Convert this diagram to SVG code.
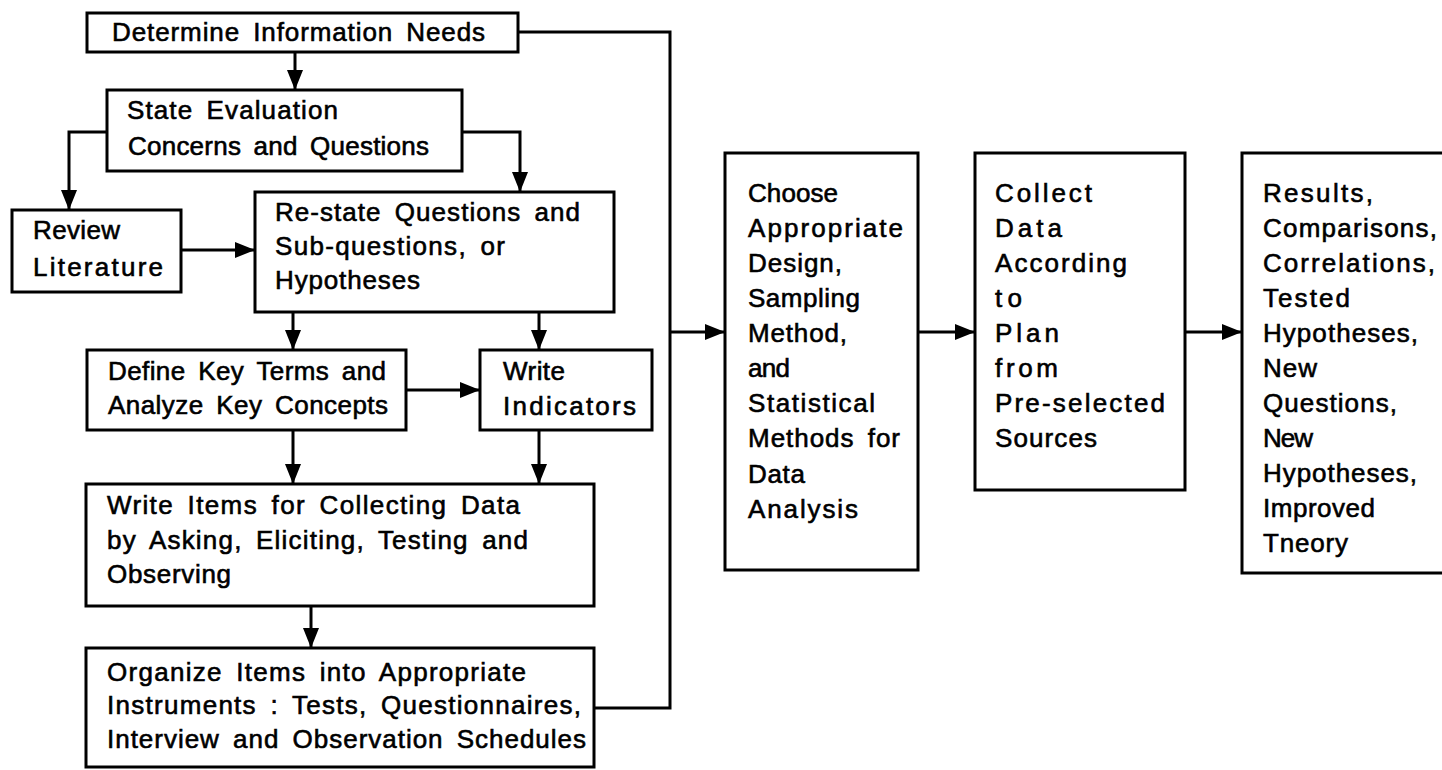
<svg xmlns="http://www.w3.org/2000/svg" width="1442" height="770" viewBox="0 0 1442 770">
  <style>
    .box { fill: #fff; stroke: #000; stroke-width: 3; }
    .t { font-family: "Liberation Sans", Arial, sans-serif; font-size: 26px; word-spacing: 5px; fill: #000; stroke: #000; stroke-width: 0.6; }
    .ln { fill: none; stroke: #000; stroke-width: 3; }
  </style>
  <defs>
    <marker id="arr" markerUnits="userSpaceOnUse" markerWidth="20" markerHeight="16" refX="20" refY="8" orient="auto">
      <path d="M0,0 L20,8 L0,16 z" fill="#000"/>
    </marker>
  </defs>
  <rect width="1442" height="770" fill="#fff"/>

  <!-- connectors -->
  <g id="connectors">
    <path class="ln" d="M295,52 V90" marker-end="url(#arr)"/>
    <path class="ln" d="M107,132 H69 V210" marker-end="url(#arr)"/>
    <path class="ln" d="M462,132 H520 V192" marker-end="url(#arr)"/>
    <path class="ln" d="M181,250 H255" marker-end="url(#arr)"/>
    <path class="ln" d="M293,312 V350" marker-end="url(#arr)"/>
    <path class="ln" d="M539,312 V350" marker-end="url(#arr)"/>
    <path class="ln" d="M406,390 H480" marker-end="url(#arr)"/>
    <path class="ln" d="M293,430 V484" marker-end="url(#arr)"/>
    <path class="ln" d="M539,430 V484" marker-end="url(#arr)"/>
    <path class="ln" d="M311,606 V648" marker-end="url(#arr)"/>
    <path class="ln" d="M518,32 H670 V708 H594"/>
    <path class="ln" d="M670,332 H725" marker-end="url(#arr)"/>
    <path class="ln" d="M918,332 H975" marker-end="url(#arr)"/>
    <path class="ln" d="M1185,332 H1242" marker-end="url(#arr)"/>
  </g>

  <g id="determine-needs">
    <rect class="box" x="87" y="13" width="431" height="39"/>
    <text class="t" x="112" y="41" textLength="373" lengthAdjust="spacing">Determine Information Needs</text>
  </g>

  <g id="state-concerns">
    <rect class="box" x="107" y="90" width="355" height="81"/>
    <text class="t" x="127" y="119" textLength="211" lengthAdjust="spacing">State Evaluation</text>
    <text class="t" x="128" y="155" textLength="301" lengthAdjust="spacing">Concerns and Questions</text>
  </g>

  <g id="review-literature">
    <rect class="box" x="12" y="210" width="169" height="82"/>
    <text class="t" x="33" y="239" textLength="87" lengthAdjust="spacing">Review</text>
    <text class="t" x="33" y="276" textLength="130" lengthAdjust="spacing">Literature</text>
  </g>

  <g id="restate-questions">
    <rect class="box" x="255" y="192" width="359" height="120"/>
    <text class="t" x="275" y="221" textLength="305" lengthAdjust="spacing">Re-state Questions and</text>
    <text class="t" x="275" y="255" textLength="230" lengthAdjust="spacing">Sub-questions, or</text>
    <text class="t" x="275" y="289" textLength="145" lengthAdjust="spacing">Hypotheses</text>
  </g>

  <g id="define-terms">
    <rect class="box" x="87" y="350" width="319" height="80"/>
    <text class="t" x="108" y="380" textLength="278" lengthAdjust="spacing">Define Key Terms and</text>
    <text class="t" x="108" y="414" textLength="280" lengthAdjust="spacing">Analyze Key Concepts</text>
  </g>

  <g id="write-indicators">
    <rect class="box" x="480" y="350" width="172" height="80"/>
    <text class="t" x="503" y="380" textLength="62" lengthAdjust="spacing">Write</text>
    <text class="t" x="503" y="415" textLength="133" lengthAdjust="spacing">Indicators</text>
  </g>

  <g id="write-items">
    <rect class="box" x="86" y="484" width="508" height="122"/>
    <text class="t" x="107" y="514" textLength="413" lengthAdjust="spacing">Write Items for Collecting Data</text>
    <text class="t" x="107" y="549" textLength="421" lengthAdjust="spacing">by Asking, Eliciting, Testing and</text>
    <text class="t" x="107" y="583" textLength="124" lengthAdjust="spacing">Observing</text>
  </g>

  <g id="organize-items">
    <rect class="box" x="86" y="648" width="508" height="119"/>
    <text class="t" x="107" y="681" textLength="419" lengthAdjust="spacing">Organize Items into Appropriate</text>
    <text class="t" x="107" y="714" textLength="474" lengthAdjust="spacing">Instruments : Tests, Questionnaires,</text>
    <text class="t" x="107" y="748" textLength="479" lengthAdjust="spacing">Interview and Observation Schedules</text>
  </g>

  <g id="choose-design">
    <rect class="box" x="725" y="153" width="193" height="417"/>
    <text class="t" x="748" y="202" textLength="90" lengthAdjust="spacing">Choose</text>
    <text class="t" x="748" y="237" textLength="155" lengthAdjust="spacing">Appropriate</text>
    <text class="t" x="748" y="272" textLength="94" lengthAdjust="spacing">Design,</text>
    <text class="t" x="748" y="307" textLength="112" lengthAdjust="spacing">Sampling</text>
    <text class="t" x="748" y="342" textLength="99" lengthAdjust="spacing">Method,</text>
    <text class="t" x="748" y="377" textLength="42" lengthAdjust="spacing">and</text>
    <text class="t" x="748" y="412" textLength="127" lengthAdjust="spacing">Statistical</text>
    <text class="t" x="748" y="447" textLength="152" lengthAdjust="spacing">Methods for</text>
    <text class="t" x="748" y="483" textLength="57" lengthAdjust="spacing">Data</text>
    <text class="t" x="748" y="518" textLength="110" lengthAdjust="spacing">Analysis</text>
  </g>

  <g id="collect-data">
    <rect class="box" x="975" y="153" width="210" height="337"/>
    <text class="t" x="995" y="202" textLength="97" lengthAdjust="spacing">Collect</text>
    <text class="t" x="995" y="237" textLength="67" lengthAdjust="spacing">Data</text>
    <text class="t" x="995" y="272" textLength="132" lengthAdjust="spacing">According</text>
    <text class="t" x="995" y="307" textLength="27" lengthAdjust="spacing">to</text>
    <text class="t" x="995" y="342" textLength="64" lengthAdjust="spacing">Plan</text>
    <text class="t" x="995" y="377" textLength="63" lengthAdjust="spacing">from</text>
    <text class="t" x="995" y="412" textLength="170" lengthAdjust="spacing">Pre-selected</text>
    <text class="t" x="995" y="447" textLength="102" lengthAdjust="spacing">Sources</text>
  </g>

  <g id="results">
    <rect class="box" x="1242" y="153" width="210" height="420"/>
    <text class="t" x="1263" y="202" textLength="110" lengthAdjust="spacing">Results,</text>
    <text class="t" x="1263" y="237" textLength="174" lengthAdjust="spacing">Comparisons,</text>
    <text class="t" x="1263" y="272" textLength="172" lengthAdjust="spacing">Correlations,</text>
    <text class="t" x="1263" y="307" textLength="87" lengthAdjust="spacing">Tested</text>
    <text class="t" x="1263" y="342" textLength="155" lengthAdjust="spacing">Hypotheses,</text>
    <text class="t" x="1263" y="377" textLength="54" lengthAdjust="spacing">New</text>
    <text class="t" x="1263" y="412" textLength="134" lengthAdjust="spacing">Questions,</text>
    <text class="t" x="1263" y="447" textLength="50" lengthAdjust="spacing">New</text>
    <text class="t" x="1263" y="482" textLength="154" lengthAdjust="spacing">Hypotheses,</text>
    <text class="t" x="1263" y="517" textLength="112" lengthAdjust="spacing">Improved</text>
    <text class="t" x="1263" y="552" textLength="85" lengthAdjust="spacing">Tneory</text>
  </g>
</svg>
